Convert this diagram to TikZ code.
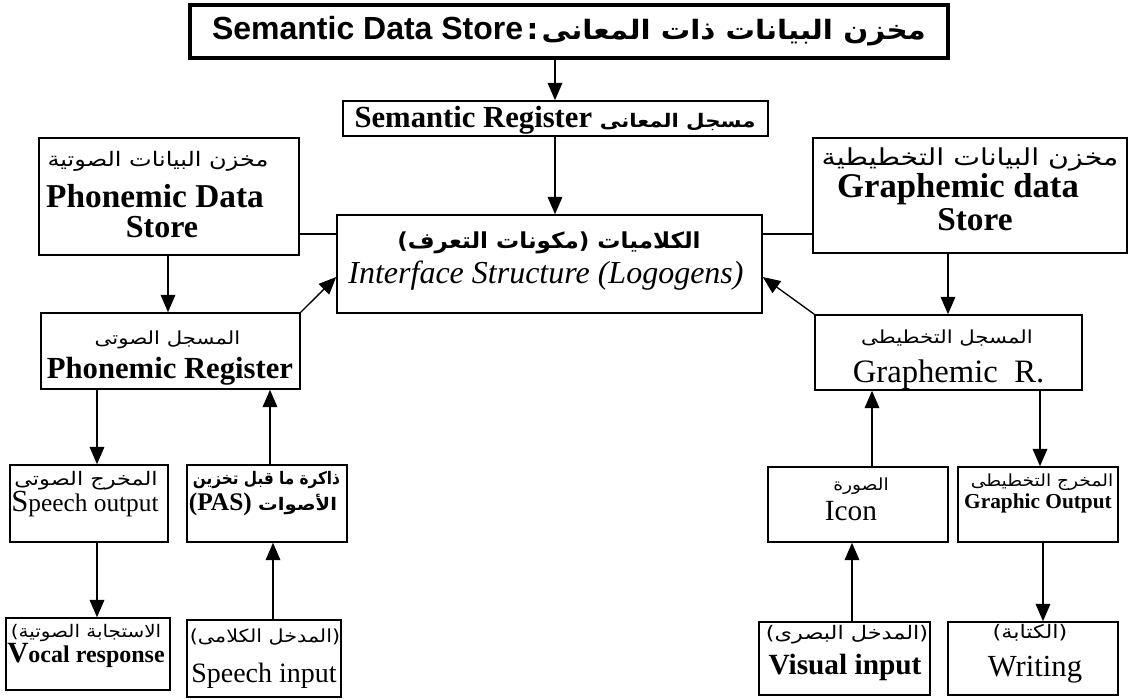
\documentclass[tikz,border=0pt]{standalone}
\usepackage{fontspec}
\usepackage{graphicx}
\usetikzlibrary{arrows.meta}
\setmainfont{Liberation Serif}
\newfontfamily\arialfont{Liberation Sans}
\newfontfamily\dejavu{DejaVu Sans}
\newfontfamily\arabicfont[Script=Arabic]{DejaVu Sans}
\TeXXeTstate=1
% size, horizontal scale, text
\newcommand\arabx[3]{\scalebox{#2}[1]{\fontsize{#1}{#1}\selectfont\arabicfont\mdseries\beginR #3\endR}}
\newcommand\arabbx[3]{\scalebox{#2}[1]{\fontsize{#1}{#1}\selectfont\arabicfont\bfseries\beginR #3\endR}}
\newcommand\arabpx[3]{\scalebox{#2}[1]{\fontsize{#1}{#1}\selectfont\mdseries\dejavu(\arabicfont\beginR #3\endR\dejavu)}}
\newcommand\fs[1]{\fontsize{#1}{#1}\selectfont}
\begin{document}
\begin{tikzpicture}[x=0.75pt,y=-0.75pt,
  box/.style={draw, line width=1.2pt, inner sep=0pt},
  t/.style={anchor=base, inner sep=0pt},
  arr/.style={-{Triangle[length=13pt,width=11pt]}, line width=1pt},
  ln/.style={line width=1pt}]
\useasboundingbox (0,0) rectangle (1133,700);
% boxes
\node[box, line width=2.6pt, minimum width=568.5pt, minimum height=39.75pt] (top) at (569,31.5)
  {{\arialfont\bfseries\fs{24}Semantic Data Store}\ {\fs{22}\arabicfont\bfseries :}\ \arabbx{20}{1.1}{مخزن البيانات ذات المعانى}};
\node[box, minimum width=318.75pt, minimum height=26.25pt] (semreg) at (555.5,118.5) {};
\node[box, minimum width=195pt, minimum height=87.75pt] (phds) at (169,196.5) {};
\node[box, minimum width=235.5pt, minimum height=86.25pt] (grds) at (970,195.5) {};
\node[box, minimum width=318.75pt, minimum height=73.5pt] (iface) at (549.5,264) {};
\node[box, minimum width=194.25pt, minimum height=57pt] (phreg) at (170.5,351) {};
\node[box, minimum width=200.25pt, minimum height=56.25pt] (grreg) at (948.5,352.5) {};
\node[box, minimum width=118.5pt, minimum height=57.75pt] (spout) at (89,503.5) {};
\node[box, minimum width=120pt, minimum height=57.75pt] (pas) at (267,503.5) {};
\node[box, minimum width=135pt, minimum height=56.25pt] (icon) at (858,504.5) {};
\node[box, minimum width=120pt, minimum height=56.25pt] (grout) at (1038,504.5) {};
\node[box, minimum width=123pt, minimum height=54pt] (vocal) at (88,654) {};
\node[box, minimum width=115.5pt, minimum height=57.75pt] (spin) at (264,658.5) {};
\node[box, minimum width=128.25pt, minimum height=54.75pt] (visin) at (844.5,658.5) {};
\node[box, minimum width=127.5pt, minimum height=54.75pt] (writing) at (1033,658.5) {};
% texts
\node[t, font=\fs{23}\bfseries] (semregT) at (555,127) {Semantic Register \arabbx{14}{1.14}{مسجل المعانى}};
\node[t] (phdsA) at (158,166) {\arabx{15}{1.2}{مخزن البيانات الصوتية}};
\node[t, font=\fs{25}\bfseries] (phdsB) at (155,207) {Phonemic Data};
\node[t, font=\fs{24}\bfseries] (phdsC) at (162,237) {Store};
\node[t] (grdsA) at (970,165) {\arabx{17.5}{1.22}{مخزن البيانات التخطيطية}};
\node[t, font=\fs{26}\bfseries] (grdsB) at (958,197) {Graphemic data};
\node[t, font=\fs{25}\bfseries] (grdsC) at (975,230) {Store};
\node[t] (ifaceA) at (549,248) {\scalebox{1.05}[1]{\fs{16.5}\bfseries\dejavu(\arabicfont\beginR مكونات التعرف\endR\dejavu)\ \arabicfont\beginR الكلاميات\endR}};
\node[t, font=\fs{24}\itshape] (ifaceB) at (546,283) {Interface Structure (Logogens)};
\node[t] (phregA) at (167.5,344) {\arabx{13.5}{1.18}{المسجل الصوتى}};
\node[t, font=\fs{23}\bfseries] (phregB) at (170,378) {Phonemic Register};
\node[t] (grregA) at (947,343) {\arabx{13.5}{1.18}{المسجل التخطيطى}};
\node[t, font=\fs{24.5}] (grregB) at (948.5,382) {Graphemic\ \ R.};
\node[t] (spoutA) at (86,485) {\arabx{14}{1.2}{المخرج الصوتى}};
\node[t, font=\fs{19}] (spoutB) at (85,511) {{\fs{23}S}peech output};
\node[t] (pasA) at (266.5,484) {\arabbx{13}{0.88}{ذاكرة ما قبل تخزين}};
\node[t, font=\fs{19}\bfseries] (pasB) at (263,510) {(PAS) \arabbx{13}{1.13}{الأصوات}};
\node[t] (iconA) at (861,490) {\arabx{12.5}{1.12}{الصورة}};
\node[t, font=\fs{22}] (iconB) at (851,520) {Icon};
\node[t] (groutA) at (1042,486) {\arabx{12.5}{1.12}{المخرج التخطيطى}};
\node[t, font=\fs{16}\bfseries] (groutB) at (1038,508) {Graphic Output};
\node[t] (vocalA) at (86,637) {\scalebox{1.15}[1]{\fs{13}\dejavu(\arabicfont\beginR الاستجابة الصوتية\endR}};
\node[t, font=\fs{18}\bfseries] (vocalB) at (86,662) {{\fs{22}V}ocal response};
\node[t] (spinA) at (265,642) {\arabpx{13.5}{1.15}{المدخل الكلامى}};
\node[t, font=\fs{21}] (spinB) at (264,682) {Speech input};
\node[t] (visinA) at (847,639) {\arabpx{14}{1.2}{المدخل البصرى}};
\node[t, font=\fs{22}\bfseries] (visinB) at (845,674) {Visual input};
\node[t] (writingA) at (1030,638) {\arabpx{14}{1.2}{الكتابة}};
\node[t, font=\fs{23}] (writingB) at (1035,676) {Writing};
% connectors
\draw[arr] (top.south -| 555,0) -- (semreg.north -| 555,0);
\draw[arr] (semreg.south -| 555,0) -- (iface.north -| 555,0);
\draw[ln] (phds.east |- 0,234) -- (iface.west |- 0,234);
\draw[ln] (grds.west |- 0,234) -- (iface.east |- 0,234);
\draw[arr] (phds.south -| 168,0) -- (phreg.north -| 168,0);
\draw[arr] (grds.south -| 948,0) -- (grreg.north -| 948,0);
\draw[arr] (phreg.north east) -- (iface.west |- 0,277);
\draw[arr] (grreg.north west) -- (iface.east |- 0,277);
\draw[arr] (phreg.south -| 97,0) -- (spout.north -| 97,0);
\draw[arr] (pas.north -| 270,0) -- (phreg.south -| 270,0);
\draw[arr] (spout.south -| 97,0) -- (vocal.north -| 97,0);
\draw[arr] (spin.north -| 273,0) -- (pas.south -| 273,0);
\draw[arr] (icon.north -| 872,0) -- (grreg.south -| 872,0);
\draw[arr] (grreg.south -| 1040,0) -- (grout.north -| 1040,0);
\draw[arr] (visin.north -| 852,0) -- (icon.south -| 852,0);
\draw[arr] (grout.south -| 1043,0) -- (writing.north -| 1043,0);
\end{tikzpicture}
\end{document}
